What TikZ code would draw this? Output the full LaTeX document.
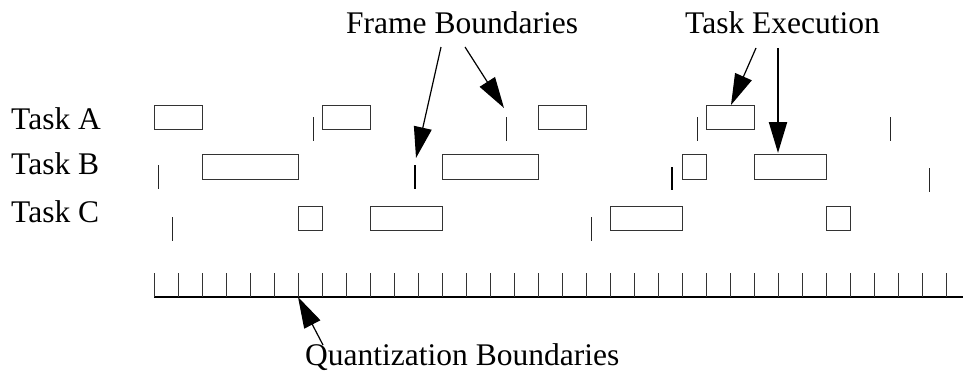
\documentclass[tikz,border=0pt]{standalone}
\usepackage{fontspec}
\setmainfont{Liberation Serif}
\usetikzlibrary{arrows.meta}
\begin{document}
\begin{tikzpicture}[x=1pt,y=-1pt,
  taskbox/.style={draw=black!80,line width=1pt,inner sep=0pt},
  fline/.style={draw=black!85,line width=1pt},
  fthick/.style={draw=black,line width=2pt},
  lbl/.style={font=\fontsize{31.5}{33}\selectfont,anchor=base west,inner sep=0pt},
  arr/.style={draw=black,line width=1.2pt,-{Triangle[length=31pt,width=18pt]}},
  arrthick/.style={draw=black,line width=2.2pt,-{Triangle[length=31pt,width=18pt]}}
]
\useasboundingbox (0,0) rectangle (963,375);
% labels
\node[lbl] (la) at (11,129) {Task A};
\node[lbl] (lb) at (11,174) {Task B};
\node[lbl] (lc) at (11,222) {Task C};
\node[lbl] (fb) at (346,33) {Frame Boundaries};
\node[lbl] (te) at (685,33) {Task Execution};
\node[lbl] (qb) at (305,365) {Quantization Boundaries};
% Task A boxes
\draw[taskbox] (154,105) rectangle (202,129);
\draw[taskbox] (322,105) rectangle (370,129);
\draw[taskbox] (538,105) rectangle (586,129);
\draw[taskbox] (706,105) rectangle (754,129);
% Task B boxes
\draw[taskbox] (202,154) rectangle (298,179);
\draw[taskbox] (442,154) rectangle (538,179);
\draw[taskbox] (682,154) rectangle (706,179);
\draw[taskbox] (754,154) rectangle (826,179);
% Task C boxes
\draw[taskbox] (298,206) rectangle (322,230);
\draw[taskbox] (370,206) rectangle (442,230);
\draw[taskbox] (610,206) rectangle (682,230);
\draw[taskbox] (826,206) rectangle (850,230);
% frame boundaries
\draw[fline] (313,117) -- (313,141);
\draw[fline] (506,117) -- (506,141);
\draw[fline] (697,117) -- (697,141);
\draw[fline] (890,117) -- (890,141);
\draw[fline] (158,165) -- (158,189);
\draw[fthick] (415,165) -- (415,189);
\draw[fthick] (672,167) -- (672,190);
\draw[fline] (929,168) -- (929,192);
\draw[fline] (172,217) -- (172,241);
\draw[fline] (591,217) -- (591,241);
% ruler
\draw[black,line width=1.2pt] (154,297) -- (963,297);
\foreach \k in {0,...,33}{
  \draw[black!80,line width=1pt] ({154+24*\k},273) -- ({154+24*\k},297);
}
% arrows
\coordinate (fbt1) at (441,47);
\coordinate (fbt2) at (465,47);
\coordinate (fbh1) at (416,158);
\coordinate (fbh2) at (504,108);
\coordinate (tet1) at (756,48);
\coordinate (tet2) at (778,48);
\coordinate (teh1) at (731,105);
\coordinate (teh2) at (778,153);
\coordinate (qbt) at (323,345);
\coordinate (qbh) at (298,297);
\draw[arr] (fbt1) -- (fbh1);
\draw[arr] (fbt2) -- (fbh2);
\draw[arr] (tet1) -- (teh1);
\draw[arrthick] (tet2) -- (teh2);
\draw[arr] (qbt) -- (qbh);
\end{tikzpicture}
\end{document}
